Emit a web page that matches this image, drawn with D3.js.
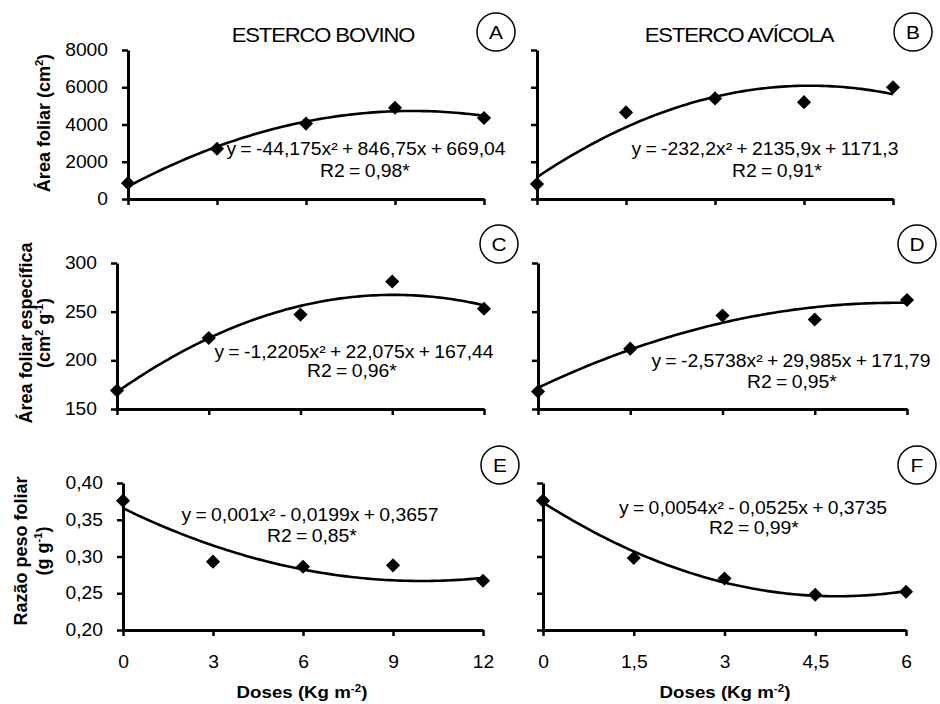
<!DOCTYPE html>
<html><head><meta charset="utf-8">
<script src="https://cdn.jsdelivr.net/npm/d3@7"></script>
<style>
body{margin:0;background:#fff}
text{font-family:"Liberation Sans",Arial,sans-serif;fill:#000}
</style>
</head><body>
<svg id="chart" width="940" height="704"></svg>
<script>
// ---- data ----
const dosesBovino = [0, 3, 6, 9, 12];
const dosesAvicola = [0, 1.5, 3, 4.5, 6];
const xTickLabelsBovino = ["0", "3", "6", "9", "12"];
const xTickLabelsAvicola = ["0", "1,5", "3", "4,5", "6"];

const areaFoliarBovino = [850, 2700, 4050, 4900, 4350];
const areaFoliarAvicola = [800, 4650, 5400, 5200, 6000];
const afeBovino = [169, 223, 247, 281, 253];
const afeAvicola = [168, 212, 246, 242, 262];
const rpfBovino = [0.376, 0.293, 0.286, 0.288, 0.267];
const rpfAvicola = [0.376, 0.298, 0.270, 0.248, 0.252];

// quadratic trendline coefficients [a, b, c] : y = a x² + b x + c
const coefA = [-44.175, 846.75, 669.04];
const coefB = [-232.2, 2135.9, 1171.3];
const coefC = [-1.2205, 22.075, 167.44];
const coefD = [-2.5738, 29.985, 171.79];
const coefE = [0.001, -0.0199, 0.3657];
const coefF = [0.0054, -0.0525, 0.3735];

const yTicksArea = [0, 2000, 4000, 6000, 8000];
const yTicksAfe = [150, 200, 250, 300];
const yTicksRpf = [0.20, 0.25, 0.30, 0.35, 0.40];
const yTickLabelsRpf = ["0,20", "0,25", "0,30", "0,35", "0,40"];

const eqTexts = ["y = -44,175x² + 846,75x + 669,04", "y = -232,2x² + 2135,9x + 1171,3",
  "y = -1,2205x² + 22,075x + 167,44", "y = -2,5738x² + 29,985x + 171,79",
  "y = 0,001x² - 0,0199x + 0,3657", "y = 0,0054x² - 0,0525x + 0,3735"];
const r2Texts = ["R2 = 0,98*", "R2 = 0,91*", "R2 = 0,96*", "R2 = 0,95*", "R2 = 0,85*", "R2 = 0,99*"];
const panelLetters = ["A", "B", "C", "D", "E", "F"];
const columnTitles = ["ESTERCO BOVINO", "ESTERCO AVÍCOLA"];

// ---- layout ----
const SX = 1.1; // horizontal stretch of the source figure's text
const panels = [
  {xs: dosesBovino, ys: areaFoliarBovino, coef: coefA, xr: [128, 484], yr: [199, 50], yd: [0, 8000], yt: yTicksArea, yl: yTicksArea.map(String), showY: true, showX: false, xl: xTickLabelsBovino,
   eq: [366, 155], r2: [365, 177], let: [496, 32]},
  {xs: dosesAvicola, ys: areaFoliarAvicola, coef: coefB, xr: [537, 893], yr: [199, 50], yd: [0, 8000], yt: yTicksArea, yl: null, showY: false, showX: false, xl: xTickLabelsAvicola,
   eq: [765, 155], r2: [777, 177], let: [913, 32]},
  {xs: dosesBovino, ys: afeBovino, coef: coefC, xr: [117, 484], yr: [409, 263], yd: [150, 300], yt: yTicksAfe, yl: yTicksAfe.map(String), showY: true, showX: false, xl: xTickLabelsBovino,
   eq: [354, 358], r2: [352, 377], let: [499, 244]},
  {xs: dosesAvicola, ys: afeAvicola, coef: coefD, xr: [538, 907], yr: [409, 263], yd: [150, 300], yt: yTicksAfe, yl: null, showY: false, showX: false, xl: xTickLabelsAvicola,
   eq: [791, 367], r2: [792, 388], let: [917, 244]},
  {xs: dosesBovino, ys: rpfBovino, coef: coefE, xr: [123, 483], yr: [630, 483], yd: [0.2, 0.4], yt: yTicksRpf, yl: yTickLabelsRpf, showY: true, showX: true, xl: xTickLabelsBovino,
   eq: [310, 521], r2: [312, 542], let: [500, 465]},
  {xs: dosesAvicola, ys: rpfAvicola, coef: coefF, xr: [543, 906], yr: [630, 483], yd: [0.2, 0.4], yt: yTicksRpf, yl: null, showY: false, showX: true, xl: xTickLabelsAvicola,
   eq: [753, 514], r2: [754, 534], let: [917, 465]}
];

const svg = d3.select("#chart");

function hText(x, y, str, size, opts = {}) {
  const t = svg.append("text")
    .attr("transform", `translate(${x},${y}) scale(${SX},1)`)
    .attr("text-anchor", opts.anchor || "middle")
    .attr("font-size", size)
    .attr("font-weight", opts.bold ? "bold" : "normal");
  if (opts.ws != null) t.attr("word-spacing", opts.ws);
  if (opts.ls != null) t.attr("letter-spacing", opts.ls);
  t.text(str);
  return t;
}

panels.forEach((p, i) => {
  const x = d3.scaleLinear().domain([p.xs[0], p.xs[p.xs.length - 1]]).range(p.xr);
  const y = d3.scaleLinear().domain(p.yd).range(p.yr);
  const g = svg.append("g");

  // y axis
  const ya = d3.axisLeft(y).tickValues(p.yt).tickSize(6).tickSizeOuter(0).tickPadding(14)
    .tickFormat((d, k) => p.showY ? p.yl[k] : "");
  const yg = g.append("g").attr("transform", `translate(${p.xr[0]},0)`).call(ya);
  // x axis
  const xa = d3.axisBottom(x).tickValues(p.xs).tickSize(6).tickSizeOuter(0).tickPadding(20)
    .tickFormat((d, k) => p.showX ? p.xl[k] : "");
  const xg = g.append("g").attr("transform", `translate(0,${p.yr[0]})`).call(xa);

  [yg, xg].forEach(ax => {
    ax.select(".domain").attr("stroke", "#000").attr("stroke-width", 3);
    ax.selectAll(".tick line").attr("stroke", "#000").attr("stroke-width", 2.5);
    ax.selectAll(".tick text").attr("font-size", 17.5)
      .attr("font-family", '"Liberation Sans",Arial,sans-serif').attr("fill", "#000");
  });
  yg.selectAll(".tick text").attr("x", -20 / SX).attr("transform", `scale(${SX},1)`);
  xg.selectAll(".tick text").attr("transform", `scale(${SX},1)`);

  // trend line
  const xmax = p.xs[p.xs.length - 1];
  const samples = d3.range(0, 101).map(k => xmax * k / 100);
  const [a, b, c] = p.coef;
  g.append("path")
    .datum(samples)
    .attr("fill", "none").attr("stroke", "#000").attr("stroke-width", 2.6)
    .attr("d", d3.line().x(d => x(d)).y(d => y(a * d * d + b * d + c)));

  // diamonds
  g.selectAll(".pt").data(p.xs.map((d, k) => [d, p.ys[k]])).join("path")
    .attr("d", d3.symbol(d3.symbolSquare, 100))
    .attr("transform", d => `translate(${x(d[0])},${y(d[1])}) rotate(45)`)
    .attr("fill", "#000");

  // equation texts
  hText(p.eq[0], p.eq[1], eqTexts[i], 17.6, {ws: -1});
  hText(p.r2[0], p.r2[1], r2Texts[i], 17.6, {ws: -1});

  // panel letter in circle
  svg.append("circle").attr("cx", p.let[0]).attr("cy", p.let[1]).attr("r", 19)
    .attr("fill", "#fff").attr("stroke", "#000").attr("stroke-width", 1.5);
  hText(p.let[0], p.let[1] + 7, panelLetters[i], 19);
});

// column titles
hText(323, 42, columnTitles[0], 20, {ls: -1});
hText(739, 42, columnTitles[1], 20, {ls: -1});

// y axis titles (rotated)
function vText(x, y, parts, size) {
  const t = svg.append("text")
    .attr("transform", `translate(${x},${y}) rotate(-90)`)
    .attr("text-anchor", "middle").attr("font-size", size).attr("font-weight", "bold");
  parts.forEach(pt => {
    const s = t.append("tspan").text(pt[0]);
    if (pt[1]) s.attr("font-size", size * 0.62).attr("dy", -size * 0.38);
    if (pt[2]) s.attr("dy", size * 0.38);
  });
  return t;
}
vText(50, 123, [["Área foliar (cm"], ["2", true], [")", false, true]], 18);
vText(32, 333, [["Área foliar específica"]], 18);
vText(50, 333, [["(cm"], ["2", true], [" g", false, true], ["-1", true], [")", false, true]], 18);
vText(27, 551, [["Razão peso foliar"]], 18);
vText(49, 551, [["(g g"], ["-1", true], [")", false, true]], 18);

// x axis titles
function xTitle(cx) {
  const size = 17;
  const t = svg.append("text")
    .attr("transform", `translate(${cx},698) scale(${SX},1)`)
    .attr("text-anchor", "middle").attr("font-size", size).attr("font-weight", "bold");
  t.append("tspan").text("Doses (Kg m");
  t.append("tspan").text("-2").attr("font-size", size * 0.62).attr("dy", -size * 0.38);
  t.append("tspan").text(")").attr("dy", size * 0.38);
}
xTitle(302);
xTitle(725);
</script>
</body></html>
